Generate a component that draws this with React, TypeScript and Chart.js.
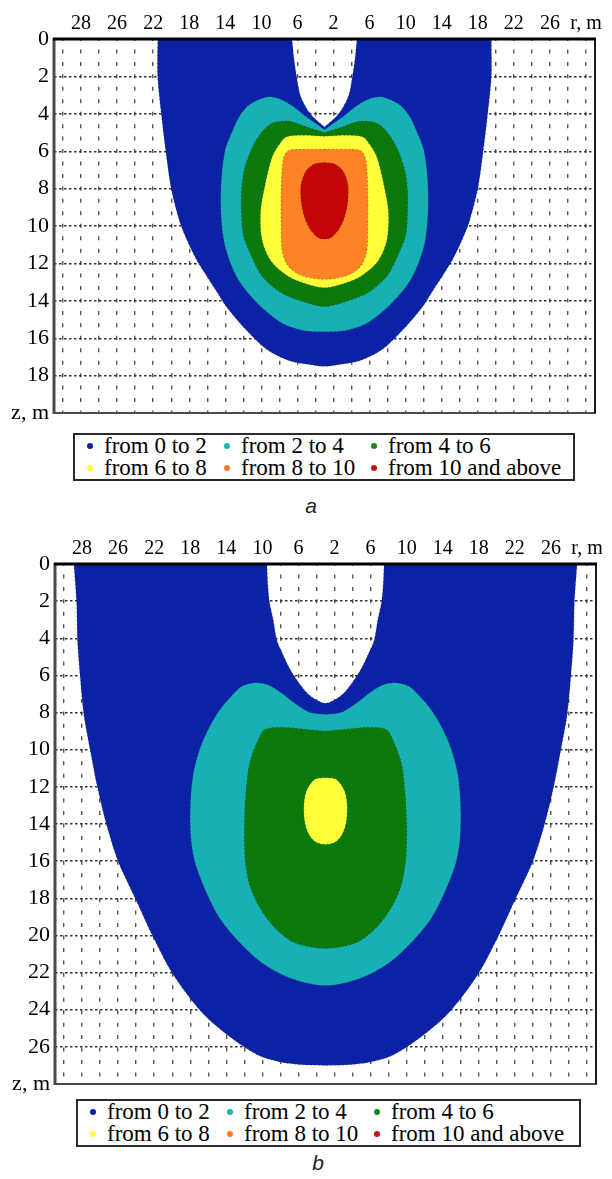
import React, { useEffect, useRef } from 'react';
import { Chart, registerables } from 'chart.js';

Chart.register(...registerables);

type Pt = [number, number];

const BAND_COLORS = ['#0b22a6', '#17b1b5', '#0b7a0b', '#ffff3a', '#ff8225', '#c20606'];
const LEGEND_DOTS = ['#0a24a0', '#19b5b8', '#168a16', '#ffff33', '#ff7a2a', '#cc1010'];
const LEGEND_LABELS = ['from 0 to 2', 'from 2 to 4', 'from 4 to 6', 'from 6 to 8', 'from 8 to 10', 'from 10 and above'];

const R_GRID = [-29, -27, -25, -23, -21, -19, -17, -15, -13, -11, -9, -7, -5, -3, -1, 1, 3, 5, 7, 9, 11, 13, 15, 17, 19, 21, 23, 25, 27, 29];
const R_TICK_POS = [-27, -23, -19, -15, -11, -7, -3, 1, 5, 9, 13, 17, 21, 25, 29];
const R_TICK_LABELS = ['28', '26', '22', '18', '14', '10', '6', '2', '6', '10', '14', '18', '22', '26', 'r, m'];

const Z_TICKS_A = [0, 2, 4, 6, 8, 10, 12, 14, 16, 18, 20];
const Z_TICKS_B = [0, 2, 4, 6, 8, 10, 12, 14, 16, 18, 20, 22, 24, 26, 28];
const Z_AXIS_LABEL = 'z, m';

const A_BLUE: Pt[] = [
  [-18.5, 0], [-18.5, 2.0], [-18.1, 4.0], [-17.6, 6.0], [-17.0, 8.0], [-16.1, 9.7], [-15.3, 10.7], [-14.2, 11.8], [-13.3, 12.5], [-12.1, 13.4], [-10.9, 14.3], [-8.6, 15.6], [-6.4, 16.6], [-3.9, 17.2], [-1.7, 17.4], [0, 17.5],
  [1.7, 17.4], [3.9, 17.2], [6.4, 16.6], [8.6, 15.6], [10.9, 14.3], [12.1, 13.4], [13.3, 12.5], [14.2, 11.8], [15.3, 10.7], [16.1, 9.7], [17.0, 8.0], [17.6, 6.0], [18.1, 4.0], [18.5, 2.0], [18.5, 0], [18.5, 0],
  [3.6, 0], [3.6, 0], [3.4, 1.0], [3.1, 2.0], [2.7, 3.0], [2.0, 3.7], [1.2, 4.2], [0, 4.7], [0, 4.7], [-1.2, 4.2], [-2.0, 3.7], [-2.7, 3.0], [-3.1, 2.0], [-3.4, 1.0], [-3.6, 0], [-3.6, 0],
  [-18.5, 0],
];
const A_CYAN: Pt[] = [
  [0, 4.85], [-1.0, 4.5], [-2.2, 4.1], [-3.5, 3.6], [-5.0, 3.2], [-6.4, 3.1], [-8.3, 3.5], [-9.4, 4.1], [-10.2, 4.9], [-11.0, 5.9], [-11.4, 7.3], [-11.5, 9.0], [-11.2, 10.7], [-10.5, 11.9], [-9.4, 13.0], [-7.5, 14.1], [-4.7, 15.2], [-2.2, 15.6],
  [0, 15.65],
  [2.2, 15.6], [4.7, 15.2], [7.5, 14.1], [9.4, 13.0], [10.5, 11.9], [11.2, 10.7], [11.5, 9.0], [11.4, 7.3], [11.0, 5.9], [10.2, 4.9], [9.4, 4.1], [8.3, 3.5], [6.4, 3.1], [5.0, 3.2], [3.5, 3.6], [2.2, 4.1], [1.0, 4.5],
  [0, 4.85],
];
const A_GREEN: Pt[] = [
  [0, 5.0], [-1.7, 4.75], [-3.9, 4.4], [-5.8, 4.5], [-7.0, 5.0], [-8.1, 5.9], [-8.9, 7.0], [-9.2, 8.1], [-9.2, 9.4], [-9.0, 10.5], [-8.3, 11.4], [-6.9, 12.7], [-4.7, 13.6], [-2.0, 14.1],
  [0, 14.3],
  [2.0, 14.1], [4.7, 13.6], [6.9, 12.7], [8.3, 11.4], [9.0, 10.5], [9.2, 9.4], [9.2, 8.1], [8.9, 7.0], [8.1, 5.9], [7.0, 5.0], [5.8, 4.5], [3.9, 4.4], [1.7, 4.75],
  [0, 5.0],
];
const A_YELLOW: Pt[] = [
  [0, 5.2], [-2.5, 5.15], [-4.3, 5.25], [-5.1, 5.7], [-5.8, 6.3], [-6.5, 7.6], [-7.1, 9.3], [-6.9, 10.8], [-5.9, 11.9], [-4.0, 12.7], [-2.0, 13.1],
  [0, 13.3],
  [2.0, 13.1], [4.0, 12.7], [5.9, 11.9], [6.9, 10.8], [7.1, 9.3], [6.5, 7.6], [5.8, 6.3], [5.1, 5.7], [4.3, 5.25], [2.5, 5.15],
  [0, 5.2],
];
const A_ORANGE: Pt[] = [
  [0, 5.9], [-2.8, 5.9], [-4.1, 6.0], [-4.6, 6.5], [-4.8, 8.1], [-4.8, 9.9], [-4.7, 11.3], [-4.1, 12.1], [-2.8, 12.6], [-1.3, 12.8],
  [0, 12.85],
  [1.3, 12.8], [2.8, 12.6], [4.1, 12.1], [4.7, 11.3], [4.8, 9.9], [4.8, 8.1], [4.6, 6.5], [4.1, 6.0], [2.8, 5.9],
  [0, 5.9],
];
const A_RED: Pt[] = [
  [0, 6.6], [-1.2, 6.7], [-2.1, 7.1], [-2.6, 7.8], [-2.6, 8.6], [-2.3, 9.4], [-1.7, 10.1], [-0.8, 10.6],
  [0, 10.7],
  [0.8, 10.6], [1.7, 10.1], [2.3, 9.4], [2.6, 8.6], [2.6, 7.8], [2.1, 7.1], [1.2, 6.7],
  [0, 6.6],
];

const B_BLUE: Pt[] = [
  [-27.9, 0], [-27.6, 2.1], [-27.5, 4.1], [-27.2, 6.1], [-26.8, 8.1], [-26.1, 10.0], [-25.3, 12.0], [-24.3, 14.0], [-23.0, 16.0], [-21.0, 18.1], [-19.1, 20.1], [-16.9, 22.1], [-13.6, 24.2], [-10.2, 25.6], [-7.2, 26.5], [-3.9, 26.9],
  [0, 27.0],
  [3.9, 26.9], [7.2, 26.5], [10.2, 25.6], [13.6, 24.2], [16.9, 22.1], [19.1, 20.1], [21.0, 18.1], [23.0, 16.0], [24.3, 14.0], [25.3, 12.0], [26.1, 10.0], [26.8, 8.1], [27.2, 6.1], [27.5, 4.1], [27.6, 2.1], [27.9, 0], [27.9, 0],
  [6.5, 0], [6.5, 0], [6.4, 1.1], [6.2, 2.1], [5.8, 3.0], [5.4, 4.1], [4.7, 4.9], [3.9, 5.7], [2.8, 6.5], [1.7, 7.1], [0, 7.5], [-1.7, 7.1], [-2.8, 6.5], [-3.9, 5.7], [-4.7, 4.9], [-5.4, 4.1], [-5.8, 3.0], [-6.2, 2.1], [-6.4, 1.1], [-6.5, 0], [-6.5, 0],
  [-27.9, 0],
];
const B_CYAN: Pt[] = [
  [0, 8.1], [-1.7, 8.0], [-3.4, 7.5], [-5.0, 6.9], [-6.4, 6.5], [-7.8, 6.4], [-9.3, 6.6], [-10.6, 7.2], [-11.8, 7.9], [-12.9, 8.8], [-13.9, 9.9], [-14.7, 11.4], [-15.0, 13.2], [-14.9, 14.9], [-14.4, 16.2], [-13.2, 17.7], [-11.7, 19.1], [-9.5, 20.4], [-7.0, 21.5], [-3.9, 22.3],
  [0, 22.7],
  [3.9, 22.3], [7.0, 21.5], [9.5, 20.4], [11.7, 19.1], [13.2, 17.7], [14.4, 16.2], [14.9, 14.9], [15.0, 13.2], [14.7, 11.4], [13.9, 9.9], [12.9, 8.8], [11.8, 7.9], [10.6, 7.2], [9.3, 6.6], [7.8, 6.4], [6.4, 6.5], [5.0, 6.9], [3.4, 7.5], [1.7, 8.0],
  [0, 8.1],
];
const B_GREEN: Pt[] = [
  [0, 9.0], [-2.3, 8.9], [-4.5, 8.8], [-6.7, 8.9], [-7.5, 9.5], [-8.4, 10.7], [-8.8, 12.2], [-9.0, 14.1], [-8.9, 15.9], [-8.4, 17.3], [-7.3, 18.5], [-5.6, 19.6], [-3.4, 20.4],
  [0, 20.7],
  [3.4, 20.4], [5.6, 19.6], [7.3, 18.5], [8.4, 17.3], [8.9, 15.9], [9.0, 14.1], [8.8, 12.2], [8.4, 10.7], [7.5, 9.5], [6.7, 8.9], [4.5, 8.8], [2.3, 8.9],
  [0, 9.0],
];
const B_YELLOW: Pt[] = [
  [0, 11.5], [-1.2, 11.6], [-2.1, 12.2], [-2.4, 13.0], [-2.3, 13.9], [-1.8, 14.6], [-1.0, 15.0],
  [0, 15.1],
  [1.0, 15.0], [1.8, 14.6], [2.3, 13.9], [2.4, 13.0], [2.1, 12.2], [1.2, 11.6],
  [0, 11.5],
];

const SERIF = '"Liberation Serif"';

const framePlugin = {
  id: 'frame',
  afterDatasetsDraw(chart: any) {
    const { ctx, chartArea } = chart;
    const { left, right, top, bottom } = chartArea;
    const seg = (x1: number, y1: number, x2: number, y2: number, c: string, w: number) => {
      ctx.save();
      ctx.strokeStyle = c;
      ctx.lineWidth = w;
      ctx.setLineDash([]);
      ctx.beginPath();
      ctx.moveTo(x1, y1);
      ctx.lineTo(x2, y2);
      ctx.stroke();
      ctx.restore();
    };
    seg(left, bottom, right + 1, bottom, '#4a4a4a', 2);
    seg(right, top, right, bottom, '#1a1a1a', 2);
    seg(left, top - 1, left, bottom + 1, '#4a4a4a', 3);
    seg(left - 1, top, right + 1, top, '#000000', 3);
  },
};

interface PanelProps {
  regions: Pt[][];
  zMax: number;
  zTicks: number[];
  top: number;
  left: number;
  height: number;
  padBottom: number;
}

function Panel({ regions, zMax, zTicks, top, left, height, padBottom }: PanelProps) {
  const ref = useRef<HTMLCanvasElement | null>(null);
  useEffect(() => {
    if (!ref.current) return;
    const n = regions.length;
    const chart = new Chart(ref.current, {
      type: 'scatter',
      data: {
        datasets: regions.map((pts, i) => ({
          data: pts.map(([r, z]) => ({ x: r, y: z })),
          showLine: true,
          fill: 'shape',
          backgroundColor: BAND_COLORS[i],
          borderColor: 'rgba(25,25,25,0.55)',
          borderWidth: 1,
          borderDash: [1, 3],
          pointRadius: 0,
          tension: 0.3,
          order: n - i,
        })) as any,
      },
      options: {
        animation: false,
        responsive: false,
        maintainAspectRatio: false,
        events: [],
        layout: { padding: { left: 0, top: 0, right: 17, bottom: padBottom } },
        plugins: { legend: { display: false }, tooltip: { enabled: false } },
        scales: {
          x: {
            type: 'linear',
            position: 'top',
            min: -30,
            max: 30,
            afterBuildTicks: (s: any) => {
              s.ticks = R_GRID.map((v) => ({ value: v }));
            },
            afterFit: (s: any) => {
              s.height = 39;
            },
            ticks: {
              autoSkip: false,
              maxRotation: 0,
              padding: 3,
              color: '#000',
              font: { family: SERIF, size: 20 },
              callback: (v: any) => {
                const k = R_TICK_POS.indexOf(Number(v));
                return k >= 0 ? R_TICK_LABELS[k] : '';
              },
            },
            grid: { color: '#555', lineWidth: 1.4, drawTicks: false },
            border: { display: false, dash: [4, 8.45], dashOffset: 2 },
          },
          y: {
            type: 'linear',
            position: 'left',
            reverse: true,
            min: 0,
            max: zMax,
            afterBuildTicks: (s: any) => {
              s.ticks = zTicks.map((v) => ({ value: v }));
            },
            afterFit: (s: any) => {
              s.width = 54;
            },
            ticks: {
              autoSkip: false,
              padding: 5,
              color: '#000',
              font: { family: SERIF, size: 22 },
              callback: (v: any) => (Number(v) === zMax ? Z_AXIS_LABEL : String(v)),
            },
            grid: { color: '#333', lineWidth: 1.4, drawTicks: false },
            border: { display: false, dash: [2.5, 2.5] },
          },
        },
      } as any,
      plugins: [framePlugin],
    });
    return () => chart.destroy();
  }, [regions, zMax, zTicks, padBottom]);
  return (
    <canvas
      ref={ref}
      width={612}
      height={height}
      style={{ position: 'absolute', left, top, width: 612, height }}
    />
  );
}

function Legend({ left, top, width }: { left: number; top: number; width: number }) {
  return (
    <div
      style={{
        position: 'absolute',
        left,
        top,
        width,
        height: 48,
        boxSizing: 'border-box',
        border: '2px solid #2a2a2a',
        background: '#fff',
        fontFamily: SERIF,
        fontSize: 23,
        lineHeight: '22px',
        color: '#000',
        paddingLeft: 9,
      }}
    >
      <div style={{ display: 'grid', gridTemplateColumns: '137px 147px auto', gridAutoRows: '22px' }}>
        {LEGEND_LABELS.map((label, i) => (
          <div key={i} style={{ display: 'flex', alignItems: 'center', whiteSpace: 'nowrap' }}>
            <span style={{ width: 12, marginRight: 8, display: 'inline-flex', justifyContent: 'center' }}>
              <span style={{ width: 6, height: 6, borderRadius: '50%', background: LEGEND_DOTS[i], display: 'inline-block' }} />
            </span>
            <span>{label}</span>
          </div>
        ))}
      </div>
    </div>
  );
}

function Caption({ text, x, top }: { text: string; x: number; top: number }) {
  return (
    <div
      style={{
        position: 'absolute',
        left: x - 15,
        top,
        width: 30,
        textAlign: 'center',
        fontFamily: '"Liberation Sans"',
        fontStyle: 'italic',
        fontSize: 21,
        lineHeight: '21px',
        color: '#222',
      }}
    >
      {text}
    </div>
  );
}

const PANEL_A = [A_BLUE, A_CYAN, A_GREEN, A_YELLOW, A_ORANGE, A_RED];
const PANEL_B = [B_BLUE, B_CYAN, B_GREEN, B_YELLOW];

export default function App() {
  return (
    <div style={{ position: 'absolute', left: 0, top: 0, width: 612, height: 1179, background: '#fff', overflow: 'hidden' }}>
      <Panel regions={PANEL_A} zMax={20} zTicks={Z_TICKS_A} top={0} left={0} height={435} padBottom={22} />
      <Legend left={73} top={433} width={502} />
      <Caption text="a" x={311} top={495} />
      <Panel regions={PANEL_B} zMax={28} zTicks={Z_TICKS_B} top={525} left={1} height={585} padBottom={26} />
      <Legend left={76} top={1099} width={505} />
      <Caption text="b" x={318} top={1152} />
    </div>
  );
}
